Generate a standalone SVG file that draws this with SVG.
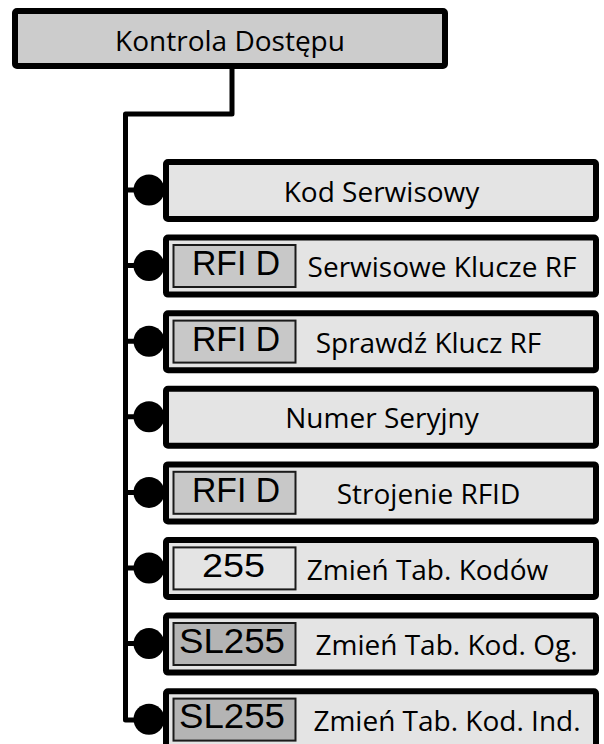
<svg xmlns="http://www.w3.org/2000/svg" width="604" height="744" viewBox="0 0 604 744">
<defs>
<style>
.box{fill:#e4e4e4;stroke:#000;stroke-width:6}
.top{fill:#cccccc;stroke:#000;stroke-width:6}
.lbl{font-family:"Open Sans","Liberation Sans",sans-serif;font-size:28px;fill:#000;text-anchor:middle}
.bdg{stroke:#1a1a1a;stroke-width:2}
.bt{font-family:"Liberation Sans",Arial,sans-serif;font-size:35px;fill:#000;text-anchor:middle}
.dot{fill:#000}
.con{fill:none;stroke:#000;stroke-width:5;stroke-linejoin:round}
</style>
</defs>
<rect width="604" height="744" fill="#fff"/>
<g id="connectors">
<path class="con" d="M232,66 V114 H125.5 V720 H149"/>
<path class="con" d="M125.5,190 H149 M125.5,265.6 H149 M125.5,341.2 H149 M125.5,416.8 H149 M125.5,492.4 H149 M125.5,568 H149 M125.5,643.6 H149"/>
</g>
<g id="root">
<rect class="top" x="15" y="11" width="430" height="55" rx="2"/>
<text class="lbl" x="230" y="50.5">Kontrola Dostępu</text>
</g>
<g id="n1">
<circle class="dot" cx="149" cy="190" r="15.5"/>
<rect class="box" x="166" y="162" width="430" height="57" rx="2"/>
<text class="lbl" x="381.5" y="202">Kod Serwisowy</text>
</g>
<g id="n2">
<circle class="dot" cx="149" cy="265.6" r="15.5"/>
<rect class="box" x="166" y="237.6" width="430" height="57" rx="2"/>
<rect class="bdg" x="173.5" y="245" width="122" height="42" fill="#c8c8c8"/>
<text class="bt" x="236" y="275" textLength="88" lengthAdjust="spacingAndGlyphs">RFI D</text>
<text class="lbl" x="442" y="277">Serwisowe Klucze RF</text>
</g>
<g id="n3">
<circle class="dot" cx="149" cy="341.2" r="15.5"/>
<rect class="box" x="166" y="313.2" width="430" height="57" rx="2"/>
<rect class="bdg" x="173.5" y="320.6" width="122" height="42" fill="#c8c8c8"/>
<text class="bt" x="236" y="350.6" textLength="88" lengthAdjust="spacingAndGlyphs">RFI D</text>
<text class="lbl" x="428.5" y="352.7">Sprawdź Klucz RF</text>
</g>
<g id="n4">
<circle class="dot" cx="149" cy="416.8" r="15.5"/>
<rect class="box" x="166" y="388.8" width="430" height="57" rx="2"/>
<text class="lbl" x="382" y="428.3">Numer Seryjny</text>
</g>
<g id="n5">
<circle class="dot" cx="149" cy="492.4" r="15.5"/>
<rect class="box" x="166" y="464.4" width="430" height="57" rx="2"/>
<rect class="bdg" x="173.5" y="471.8" width="122" height="42" fill="#c8c8c8"/>
<text class="bt" x="236" y="501.8" textLength="88" lengthAdjust="spacingAndGlyphs">RFI D</text>
<text class="lbl" x="428.5" y="503.9">Strojenie RFID</text>
</g>
<g id="n6">
<circle class="dot" cx="149" cy="568" r="15.5"/>
<rect class="box" x="166" y="540" width="430" height="57" rx="2"/>
<rect class="bdg" x="173.5" y="547.4" width="122" height="42" fill="#e4e4e4"/>
<text class="bt" x="233.5" y="577" style="font-size:33px" textLength="63" lengthAdjust="spacingAndGlyphs">255</text>
<text class="lbl" x="427.5" y="579.5">Zmień Tab. Kodów</text>
</g>
<g id="n7">
<circle class="dot" cx="149" cy="643.6" r="15.5"/>
<rect class="box" x="166" y="615.6" width="430" height="57" rx="2"/>
<rect class="bdg" x="173.5" y="623" width="122" height="42" fill="#b4b4b4"/>
<text class="bt" x="232" y="652.6" textLength="106" lengthAdjust="spacingAndGlyphs">SL255</text>
<text class="lbl" x="446.5" y="655.1">Zmień Tab. Kod. Og.</text>
</g>
<g id="n8">
<circle class="dot" cx="149" cy="719.2" r="15.5"/>
<rect class="box" x="166" y="691.2" width="430" height="57" rx="2"/>
<rect class="bdg" x="173.5" y="698.6" width="122" height="42" fill="#b4b4b4"/>
<text class="bt" x="232" y="728.2" textLength="106" lengthAdjust="spacingAndGlyphs">SL255</text>
<text class="lbl" x="447" y="730.7">Zmień Tab. Kod. Ind.</text>
</g>
</svg>
